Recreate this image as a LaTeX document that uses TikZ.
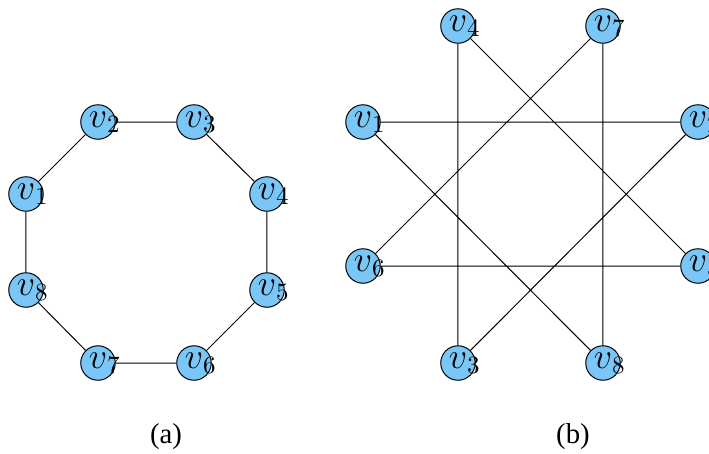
\documentclass[tikz,border=0pt]{standalone}
\usepackage{fontspec}
\setmainfont{Liberation Serif}
\usetikzlibrary{positioning}
\definecolor{vblue}{RGB}{122,199,247}
\tikzset{
  vert/.style={circle, draw=black, fill=vblue, minimum size=13.8pt, inner sep=0pt, font=\Large},
  caption/.style={font=\fontsize{11.5}{13}\selectfont}
}
\newcommand{\vlab}[1]{$v\rlap{$_{#1}$}$}
\begin{document}
\begin{tikzpicture}[x=0.4pt, y=-0.4pt]
    \useasboundingbox (0,0) rectangle (709,454);
    % graph (a)
    \node[vert] (a1) at (26,194) {\vlab{1}};
    \node[vert] (a2) at (98,122) {\vlab{2}};
    \node[vert] (a3) at (194,122) {\vlab{3}};
    \node[vert] (a4) at (267,194) {\vlab{4}};
    \node[vert] (a5) at (267,290) {\vlab{5}};
    \node[vert] (a6) at (194,363) {\vlab{6}};
    \node[vert] (a7) at (98,363) {\vlab{7}};
    \node[vert] (a8) at (26,290) {\vlab{8}};
    \draw (a1) -- (a2) -- (a3) -- (a4) -- (a5) -- (a6) -- (a7) -- (a8) -- (a1);
    \node[caption] (capa) at (166,437) {(a)};
    % graph (b)
    \node[vert] (b1) at (363,122) {\vlab{1}};
    \node[vert] (b2) at (698,122) {\vlab{2}};
    \node[vert] (b3) at (458,363) {\vlab{3}};
    \node[vert] (b4) at (458,26) {\vlab{4}};
    \node[vert] (b5) at (698,266) {\vlab{5}};
    \node[vert] (b6) at (363,266) {\vlab{6}};
    \node[vert] (b7) at (603,26) {\vlab{7}};
    \node[vert] (b8) at (603,363) {\vlab{8}};
    \draw (b1) -- (b2) -- (b3) -- (b4) -- (b5) -- (b6) -- (b7) -- (b8) -- (b1);
    \node[caption] (capb) at (573,437) {(b)};
\end{tikzpicture}
\end{document}
